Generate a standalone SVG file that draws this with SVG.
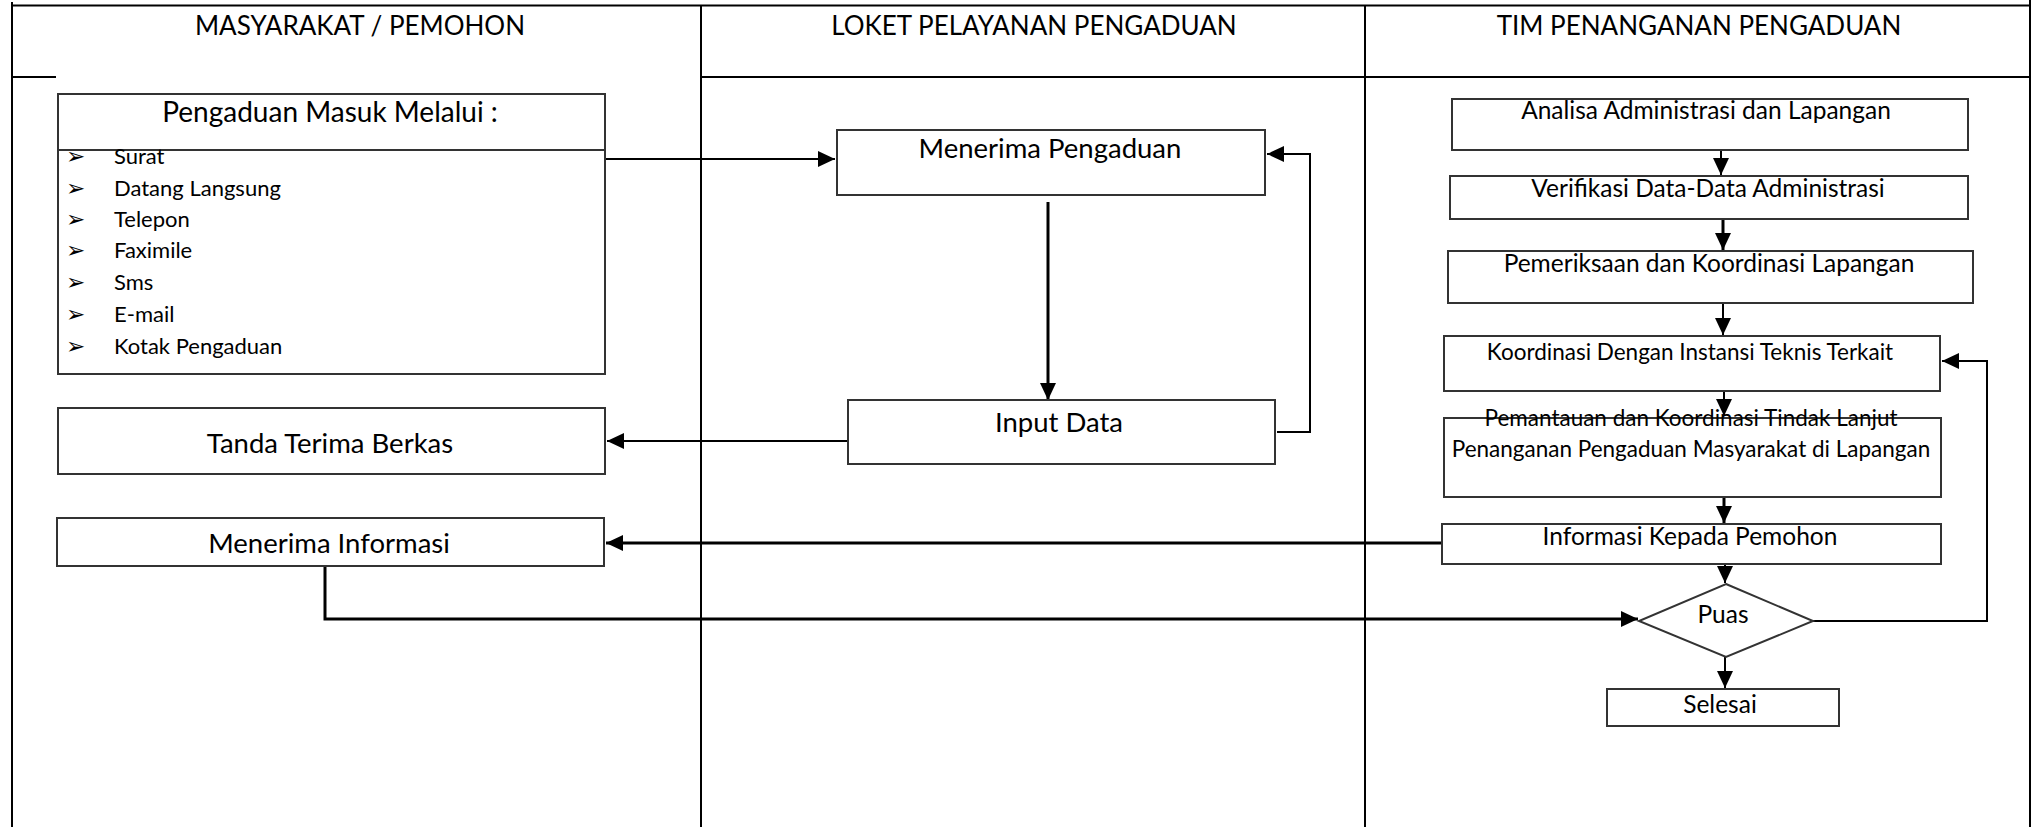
<svg xmlns="http://www.w3.org/2000/svg" width="2032" height="827" viewBox="0 0 2032 827">
<defs>
<style>
.lane{stroke:#000;stroke-width:2;fill:none}
.box{fill:#fff;stroke:#333;stroke-width:2}
.c{fill:none;stroke:#000;stroke-width:2}
.c3{fill:none;stroke:#000;stroke-width:3}
text{font-family:Lato,"Liberation Sans",sans-serif;fill:#000}
.h{font-size:26px;text-anchor:middle}
.t{font-size:28px;text-anchor:middle}
.n{font-size:27.5px;text-anchor:middle}
.m{font-size:24.5px;text-anchor:middle}
.s{font-size:22.5px;text-anchor:middle}
.b{font-size:22px}
.bl{font-family:"DejaVu Sans",sans-serif;font-size:23px}
</style>
<marker id="ah" markerUnits="userSpaceOnUse" markerWidth="18" markerHeight="16" refX="17" refY="8" orient="auto">
<path d="M0,0 L17,8 L0,16 z" fill="#000"/>
</marker>
</defs>
<rect width="2032" height="827" fill="#fff"/>
<g id="lanes">
<line class="lane" x1="12" y1="5.5" x2="2031" y2="5.5"/>
<line class="lane" x1="12" y1="2" x2="12" y2="827"/>
<line class="lane" x1="12" y1="77" x2="56" y2="77"/>
<line class="lane" x1="701" y1="5" x2="701" y2="827"/>
<line class="lane" x1="1365" y1="5" x2="1365" y2="827"/>
<line class="lane" x1="2030" y1="0" x2="2030" y2="827"/>
<line class="lane" x1="701" y1="77" x2="2031" y2="77"/>
<text class="h" x="360" y="35">MASYARAKAT / PEMOHON</text>
<text class="h" x="1034" y="35">LOKET PELAYANAN PENGADUAN</text>
<text class="h" x="1699" y="35">TIM PENANGANAN PENGADUAN</text>
</g>
<g id="connectors">
<path class="c" d="M605,159 H835" marker-end="url(#ah)"/>
<path class="c3" d="M1048,202 V400" marker-end="url(#ah)"/>
<path class="c" d="M1277,432 H1310 V154 H1267" marker-end="url(#ah)"/>
<path class="c" d="M848,441 H607" marker-end="url(#ah)"/>
<path class="c" d="M1721,147 V175" marker-end="url(#ah)"/>
<path class="c3" d="M1723,219 V250" marker-end="url(#ah)"/>
<path class="c" d="M1723,303 V335" marker-end="url(#ah)"/>
<path class="c" d="M1724,391 V416" marker-end="url(#ah)"/>
<path class="c3" d="M1724,497 V523" marker-end="url(#ah)"/>
<path class="c" d="M1725,564 V583" marker-end="url(#ah)"/>
<path class="c" d="M1725,657 V688" marker-end="url(#ah)"/>
<path class="c3" d="M1442,543 H606" marker-end="url(#ah)"/>
<path class="c3" d="M325,566 V619 H1638" marker-end="url(#ah)"/>
<path class="c" d="M1813,621 H1987 V361 H1942" marker-end="url(#ah)"/>
</g>
<g id="pengaduan-masuk">
<rect class="box" x="58" y="94" width="547" height="280"/>
<line class="box" x1="58" y1="150" x2="605" y2="150"/>
<text class="t" x="330" y="122">Pengaduan Masuk Melalui :</text>
<text class="bl" x="66" y="164">➢</text><text class="b" x="114" y="164">Surat</text>
<text class="bl" x="66" y="196">➢</text><text class="b" x="114" y="196">Datang Langsung</text>
<text class="bl" x="66" y="227">➢</text><text class="b" x="114" y="227">Telepon</text>
<text class="bl" x="66" y="258">➢</text><text class="b" x="114" y="258">Faximile</text>
<text class="bl" x="66" y="290">➢</text><text class="b" x="114" y="290">Sms</text>
<text class="bl" x="66" y="322">➢</text><text class="b" x="114" y="322">E-mail</text>
<text class="bl" x="66" y="354">➢</text><text class="b" x="114" y="354">Kotak Pengaduan</text>
</g>
<g id="tanda-terima">
<rect class="box" x="58" y="408" width="547" height="66"/>
<text class="n" x="330" y="453">Tanda Terima Berkas</text>
</g>
<g id="menerima-informasi">
<rect class="box" x="57" y="518" width="547" height="48"/>
<text class="n" x="329" y="553">Menerima Informasi</text>
</g>
<g id="menerima-pengaduan">
<rect class="box" x="837" y="130" width="428" height="65"/>
<text class="n" x="1050" y="158">Menerima Pengaduan</text>
</g>
<g id="input-data">
<rect class="box" x="848" y="400" width="427" height="64"/>
<text class="n" x="1059" y="432">Input Data</text>
</g>
<g id="analisa">
<rect class="box" x="1452" y="99" width="516" height="51"/>
<text class="m" x="1706" y="119">Analisa Administrasi dan Lapangan</text>
</g>
<g id="verifikasi">
<rect class="box" x="1450" y="176" width="518" height="43"/>
<text class="m" x="1708" y="197">Verifikasi Data-Data Administrasi</text>
</g>
<g id="pemeriksaan">
<rect class="box" x="1448" y="251" width="525" height="52"/>
<text class="m" x="1709" y="272">Pemeriksaan dan Koordinasi Lapangan</text>
</g>
<g id="koordinasi">
<rect class="box" x="1444" y="336" width="496" height="55"/>
<text class="s" x="1690" y="360">Koordinasi Dengan Instansi Teknis Terkait</text>
</g>
<g id="pemantauan">
<rect class="box" x="1444" y="418" width="497" height="79"/>
<text class="s" x="1691" y="426">Pemantauan dan Koordinasi Tindak Lanjut</text>
<text class="s" x="1691" y="457">Penanganan Pengaduan Masyarakat di Lapangan</text>
</g>
<g id="informasi-pemohon">
<rect class="box" x="1442" y="524" width="499" height="40"/>
<text class="m" x="1690" y="545">Informasi Kepada Pemohon</text>
</g>
<g id="puas">
<polygon class="box" points="1726,584 1813,621 1726,657 1639,621"/>
<text class="m" x="1723" y="623">Puas</text>
</g>
<g id="selesai">
<rect class="box" x="1607" y="689" width="232" height="37"/>
<text class="m" x="1720" y="713">Selesai</text>
</g>
</svg>
